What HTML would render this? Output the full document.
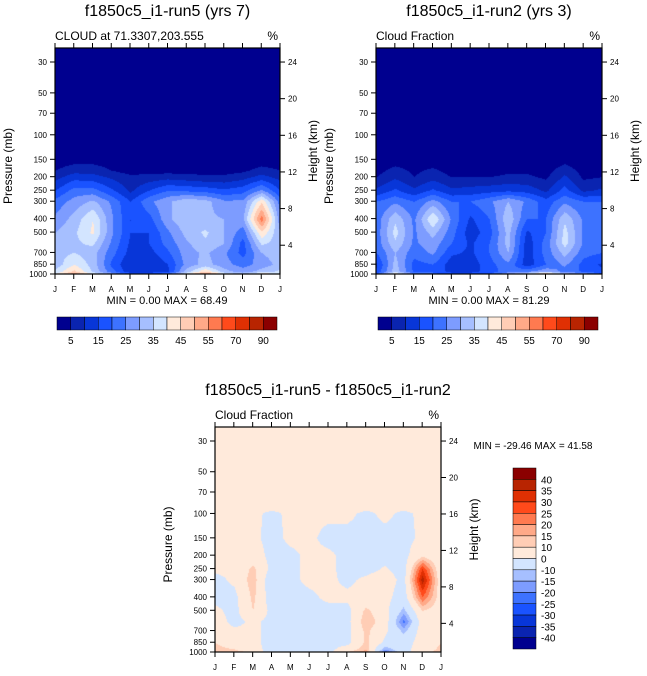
<!DOCTYPE html>
<html><head><meta charset="utf-8">
<style>
body{margin:0;background:#fff;width:647px;height:676px;overflow:hidden;position:relative;font-family:"Liberation Sans",sans-serif}
canvas{position:absolute}
svg{position:absolute;left:0;top:0}
</style></head>
<body>
<canvas id="c1" width="647" height="676" style="left:0;top:0"></canvas>
<svg id="s" width="647" height="676"></svg>
<script>
const months = ["J","F","M","A","M","J","J","A","S","O","N","D","J"];
const pressTicks = [30,50,70,100,150,200,250,300,400,500,700,850,1000];
const heightTicks = [4,8,12,16,20,24];
const levelsP = [25,150,180,200,250,300,400,500,600,700,850,950,1000];
const run5 = [
[0,0,0,0,0,0,0,0,0,0,0,0,0],
[2,3,3,2,1,1,1,1,1,1,1,2,2],
[5,8,8,5,3,3,3,3,3,3,4,7,5],
[8,13,12,9,6,7,8,7,6,6,8,12,8],
[15,22,22,16,9,15,20,19,18,16,18,26,15],
[22,27,31,24,15,24,29,34,32,26,26,44,22],
[26,32,40,26,15,18,29,34,31,30,29,58,26],
[30,34,41,26,15,15,24,32,36,30,22,44,30],
[32,34,36,24,14,15,22,29,34,30,18,36,32],
[33,35,32,22,13,13,19,28,31,26,18,30,33],
[32,40,33,19,10,10,15,27,32,27,23,27,32],
[36,46,34,22,11,11,14,32,44,32,27,32,36],
[40,55,40,30,20,20,25,40,60,40,35,45,40]];
const run2 = [
[0,0,0,0,0,0,0,0,0,0,0,0,0],
[1,2,2,2,1,1,1,1,1,1,3,1,1],
[3,7,4,6,3,3,3,4,4,3,8,3,3],
[5,9,5,8,5,5,5,6,6,4,11,4,5],
[11,16,11,16,11,12,13,14,13,9,17,9,11],
[20,24,20,27,20,20,24,30,24,17,24,20,20],
[22,34,24,40,24,14,20,34,20,20,34,24,22],
[22,37,24,32,22,12,18,32,14,20,37,24,22],
[22,34,24,28,20,14,20,32,12,22,37,24,22],
[20,30,22,26,16,14,20,30,12,22,32,22,20],
[14,32,18,20,12,12,18,24,12,20,26,18,14],
[16,33,19,19,13,13,17,23,23,29,23,19,16],
[20,45,25,22,18,18,20,30,40,55,35,30,20]];
const diffP = [25,90,100,150,200,250,300,400,500,600,700,850,950,1000];
const diff = [
[2,2,2,2,2,2,2,2,2,2,2,2,2],
[2,2,2,2,2,2,2,2,2,2,2,2,2],
[2,2,2,-2,2,2,2,2,-2,2,-2,2,2],
[2,2,2,-3,2,2,-3,-3,-3,-3,-3,2,2],
[2,2,5,-3,-2,2,2,-3,-3,-3,-3,8,2],
[2,2,12,-3,-2,2,2,-3,-3,1,-4,30,2],
[-3,2,14,-8,-2,2,2,-2,2,5,-3,38,3],
[-3,-3,12,-6,-3,-2,2,2,3,3,-5,25,5],
[2,-3,10,-3,-3,-3,-3,-3,12,3,-12,10,5],
[5,-3,2,-3,-3,-3,-3,-3,15,5,-22,5,8],
[5,2,2,-3,-3,-3,-3,-3,12,2,-12,5,8],
[10,5,2,-3,-3,-3,-3,-3,12,-2,-5,5,10],
[12,10,5,-5,-3,-3,-3,5,14,-15,-3,5,12],
[15,12,10,-10,-3,-3,-3,10,20,-25,-3,5,15]];
const palette = ["#00008f","#0a24b0","#0836d8","#1a53ff","#3d72ff","#7d9cff","#a6bfff","#d3e5ff","#ffeadb","#ffcdb5","#ffa988","#ff7a50","#ff4a1b","#e03003","#b82401","#8b0000"];
const absLevels = [5,10,15,20,25,30,35,40,45,50,55,60,70,80,90];
const absLabels = ["5","15","25","35","45","55","70","90"];
const diffLevels = [-40,-35,-30,-25,-20,-15,-10,0,10,15,20,25,30,35,40];

const NS="http://www.w3.org/2000/svg";
const svg=document.getElementById('s');
const ctx=document.getElementById('c1').getContext('2d');
function mk(tag,attrs,parent){const e=document.createElementNS(NS,tag);for(const k in attrs)e.setAttribute(k,attrs[k]);(parent||svg).appendChild(e);return e;}
function txt(x,y,s,size,anchor,parent,rot){const t=mk('text',{x:x,y:y,'font-size':size,'text-anchor':anchor||'middle',fill:'#000'},parent);if(rot)t.setAttribute('transform','rotate(-90 '+x+' '+y+')');t.textContent=s;return t;}
function bin(v,lv){let i=0;while(i<lv.length&&v>=lv[i])i++;return i;}
function hex(c){return [parseInt(c.slice(1,3),16),parseInt(c.slice(3,5),16),parseInt(c.slice(5,7),16)];}
const pal=palette.map(hex);

function panel(cfg){
  const {x0,y0,w,h,grid,P,lv,name}=cfg;
  const yScale=p=>y0+h-Math.log(1000/p)*(h-14)/Math.log(1000/30);
  const xScale=m=>x0+m*w/12;
  const lnP=P.map(p=>Math.log(p));
  const img=ctx.createImageData(w,h);
  for(let py=0;py<h;py++){
    const lp=Math.log(1000)-(h-py)*Math.log(1000/30)/(h-14);
    let j=0;while(j<lnP.length-2&&lp>lnP[j+1])j++;
    let fy=(lp-lnP[j])/(lnP[j+1]-lnP[j]);fy=Math.max(0,Math.min(1,fy));
    for(let px=0;px<w;px++){
      const m=px*12/w;let i=Math.min(11,Math.floor(m));const fx=m-i;
      const v=(grid[j][i]*(1-fx)+grid[j][i+1]*fx)*(1-fy)+(grid[j+1][i]*(1-fx)+grid[j+1][i+1]*fx)*fy;
      const c=pal[bin(v,lv)];const k=(py*w+px)*4;
      img.data[k]=c[0];img.data[k+1]=c[1];img.data[k+2]=c[2];img.data[k+3]=255;
    }
  }
  ctx.putImageData(img,x0,y0);
  const g=mk('g',{});
  
  
  mk('rect',{x:x0,y:y0,width:w,height:h,fill:'none',stroke:'#000','stroke-width':1.2},g);
  pressTicks.forEach(p=>{const y=yScale(p);mk('line',{x1:x0-5,x2:x0,y1:y,y2:y,stroke:'#000'},g);txt(x0-8,y+3,String(p),8,'end',g);});
  heightTicks.forEach(z=>{const y=y0+h-(0.1515*z-0.13)*(h-14)/Math.log(1000/30);mk('line',{x1:x0+w,x2:x0+w+5,y1:y,y2:y,stroke:'#000'},g);txt(x0+w+8,y+3,String(z),8,'start',g);});
  months.forEach((m,i)=>{const x=xScale(i);mk('line',{x1:x,x2:x,y1:y0+h,y2:y0+h+5,stroke:'#000'},g);mk('line',{x1:x,x2:x,y1:y0,y2:y0-5,stroke:'#000'},g);txt(x,y0+h+18,m,8,'middle',g);});
  txt(x0+w/2,y0-32,cfg.title,16,'middle',g);
  txt(x0,y0-8,cfg.sub,12,'start',g);
  txt(x0+w-2,y0-8,'%',12,'end',g);
  txt(x0-43,y0+h/2+5,'Pressure (mb)',12,'middle',g,true);
  txt(x0+w+37,y0+h/2-10,'Height (km)',12,'middle',g,true);
}
panel({x0:55,y0:48,w:225,h:226,grid:run5,P:levelsP,lv:absLevels,name:'run5-panel',title:'f1850c5_i1-run5 (yrs 7)',sub:'CLOUD at 71.3307,203.555'});
panel({x0:376,y0:48,w:226,h:226,grid:run2,P:levelsP,lv:absLevels,name:'run2-panel',title:'f1850c5_i1-run2 (yrs 3)',sub:'Cloud Fraction'});
panel({x0:215,y0:427,w:226,h:225,grid:diff,P:diffP,lv:diffLevels,name:'diff-panel',title:'f1850c5_i1-run5 - f1850c5_i1-run2',sub:'Cloud Fraction'});
txt(167,304,'MIN =   0.00 MAX =  68.49',11,'middle');
txt(489,304,'MIN =   0.00 MAX =  81.29',11,'middle');
txt(533,449,'MIN = -29.46 MAX =  41.58',10,'middle');
[57,378].forEach((bx,pi)=>{
  const cb=mk('g',{});
  
  
  palette.forEach((c,i)=>mk('rect',{x:bx+i*13.75,y:317,width:13.75,height:13,fill:c,stroke:'#000','stroke-width':0.5},cb));
  absLabels.forEach((l,i)=>txt(bx+(2*i+1)*13.75,344,l,10,'middle',cb));
});
const cb3=mk('g',{});


const bh=181/16;
palette.slice().reverse().forEach((c,i)=>mk('rect',{x:513,y:468+i*bh,width:23,height:bh,fill:c,stroke:'#000','stroke-width':0.5},cb3));
diffLevels.slice().reverse().forEach((l,i)=>txt(541,468+(i+1)*bh+4,String(l),10,'start',cb3));
</script>
</body></html>
